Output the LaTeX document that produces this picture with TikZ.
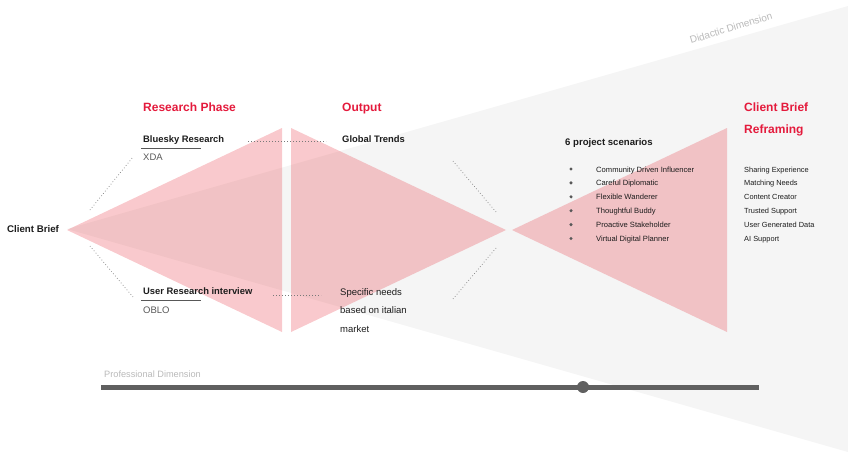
\documentclass[tikz,border=0pt]{standalone}
\usepackage{fontspec}
\setmainfont{Liberation Sans}
\usepackage{tikz}
\usetikzlibrary{positioning}
\usepackage{xcolor}
\definecolor{brandred}{RGB}{228,26,60}
\definecolor{funnelred}{RGB}{232,48,60}
\definecolor{bggrey}{RGB}{245,245,245}
\definecolor{inkdark}{RGB}{28,28,28}
\definecolor{inkgrey}{RGB}{88,88,88}
\definecolor{faint}{RGB}{185,185,185}
\definecolor{barcolor}{RGB}{96,96,96}

\begin{document}
\begin{tikzpicture}[x=1pt, y=-1pt,
  title/.style={text=brandred, font=\fontsize{12}{14}\selectfont\bfseries, anchor=base west, inner sep=0pt},
  head/.style={text=inkdark, font=\fontsize{9.4}{11}\selectfont\bfseries, anchor=base west, inner sep=0pt},
  sub/.style={text=inkgrey, font=\fontsize{9.5}{11}\selectfont, anchor=base west, inner sep=0pt},
  item/.style={text=inkdark, font=\fontsize{7.6}{9}\selectfont, anchor=base west, inner sep=0pt},
  funnel/.style={fill=funnelred, fill opacity=0.26},
  link/.style={draw=inkgrey!80, line width=0.7pt, dash pattern=on 0.7pt off 2.3pt},
  rule/.style={draw=inkgrey, line width=0.8pt},
  dot/.style={circle, fill=inkgrey, inner sep=0pt, minimum size=3.4pt}]
  \useasboundingbox (0,0) rectangle (848,455);
  % Didactic dimension (background wedge)
  \fill[bggrey] (67,229) -- (848,6) -- (848,452) -- cycle;
  \node[rotate=17, text=faint, font=\fontsize{10}{12}\selectfont, inner sep=0pt] (didactic) at (731,28) {Didactic Dimension};
  % Funnels
  \fill[funnel] (67,230) -- (282,128) -- (282,332) -- cycle;
  \fill[funnel] (291,128) -- (291,332) -- (506,230) -- cycle;
  \fill[funnel] (512,230) -- (727,128) -- (727,332) -- cycle;
  % Column titles
  \node[title] (research) at (143,111) {Research Phase};
  \node[title] (output) at (342,111) {Output};
  \node[title] (reframe1) at (744,111) {Client Brief};
  \node[title] (reframe2) at (744,133) {Reframing};
  % Research phase
  \node[head, font=\fontsize{9.7}{11}\selectfont\bfseries] (brief) at (7,232) {Client Brief};
  \node[head] (bluesky) at (143,142) {Bluesky Research};
  \node[sub] (xda) at (143,160) {XDA};
  \node[head] (userres) at (143,294) {User Research interview};
  \node[sub] (oblo) at (143,313) {OBLO};
  \coordinate (blueL) at (141,148);
  \coordinate (blueR) at (201,148);
  \coordinate (userL) at (141,300);
  \coordinate (userR) at (201,300);
  \draw[rule] (blueL) -- (blueR);
  \draw[rule] (userL) -- (userR);
  % Output
  \node[head] (trends) at (342,142) {Global Trends};
  \node[sub, text=inkdark, align=left, font=\fontsize{9.5}{18.5}\selectfont] (needs) at (340,332)
    {Specific needs\\based on italian\\market};
  % Dotted links
  \coordinate (upA) at (90,210);   \coordinate (upB) at (133,157);
  \coordinate (dnA) at (90,246);   \coordinate (dnB) at (133,297);
  \coordinate (topA) at (248,141); \coordinate (topB) at (326,141);
  \coordinate (botA) at (273,295); \coordinate (botB) at (321,295);
  \coordinate (midA) at (453,161); \coordinate (midB) at (496,212);
  \coordinate (midC) at (496,248); \coordinate (midD) at (453,299);
  \draw[link] (upA) -- (upB);
  \draw[link] (dnA) -- (dnB);
  \draw[link] (topA) -- (topB);
  \draw[link] (botA) -- (botB);
  \draw[link] (midA) -- (midB);
  \draw[link] (midC) -- (midD);
  % Scenarios and reframing
  \node[head, font=\fontsize{9.6}{11}\selectfont\bfseries] (scenarios) at (565,145) {6 project scenarios};
  \foreach \name/\role [count=\i] in {Community Driven Influencer/Sharing Experience,
      Careful Diplomatic/Matching Needs, Flexible Wanderer/Content Creator,
      Thoughtful Buddy/Trusted Support, Proactive Stakeholder/User Generated Data,
      Virtual Digital Planner/AI Support} {
    \node[dot] (bullet\i) at (571,{169+13.9*(\i-1)}) {};
    \node[item] (scen\i) at (596,{172+13.9*(\i-1)}) {\name};
    \node[item, font=\fontsize{7.4}{9}\selectfont] (role\i) at (744,{172+13.9*(\i-1)}) {\role};
  }
  % Professional dimension
  \node[text=faint, font=\fontsize{9.2}{11}\selectfont, anchor=base west, inner sep=0pt] (profdim) at (104,377) {Professional Dimension};
  \coordinate (barL) at (101,387);
  \coordinate (barR) at (759,387);
  \draw[barcolor, line width=5pt] (barL) -- (barR);
  \node[circle, fill=barcolor, minimum size=12pt, inner sep=0pt] (knob) at (583,387) {};
\end{tikzpicture}
\end{document}
